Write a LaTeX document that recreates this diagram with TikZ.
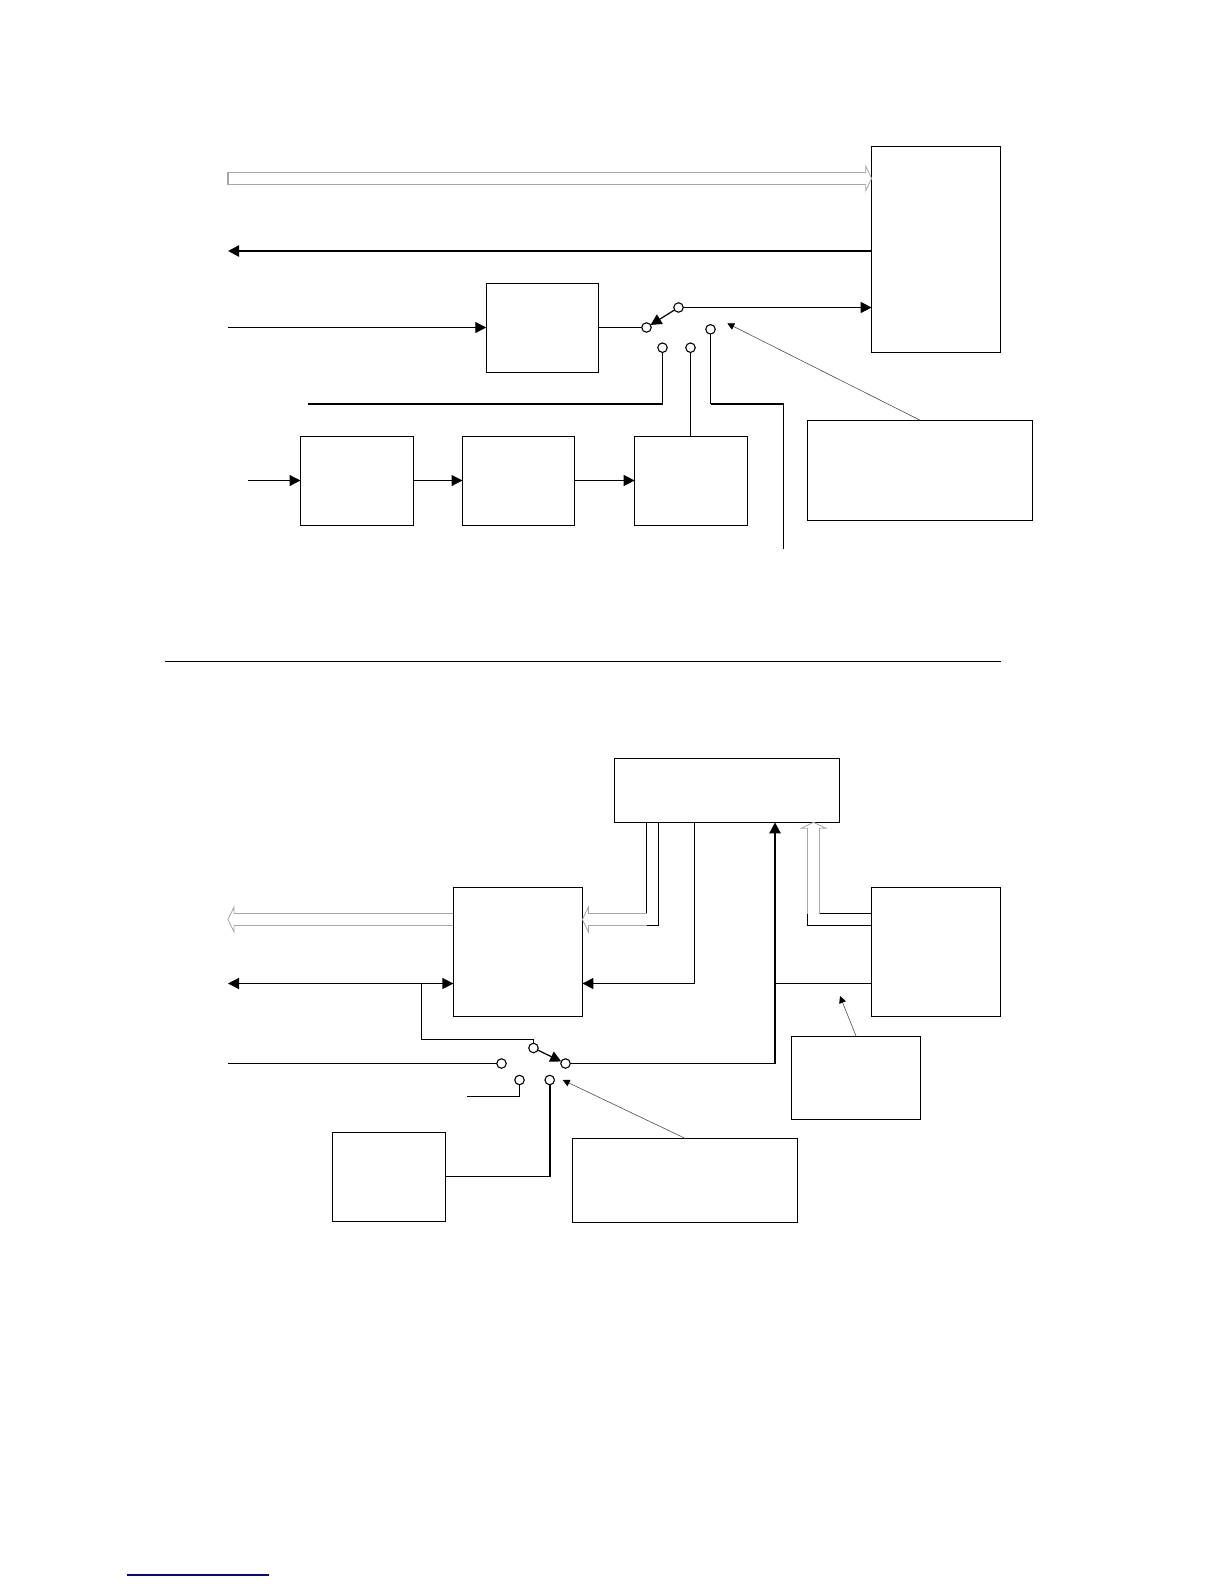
\documentclass[tikz,border=0pt]{standalone}
\usepackage{tikz}
\usetikzlibrary{arrows.meta,calc}
\definecolor{busGray}{HTML}{A6A6A6}
\definecolor{footBlue}{HTML}{0A0A80}
\pgfdeclarearrow{
  name=BusTip,
  setup code={
    \pgfarrowssettipend{0pt}
    \pgfarrowssetlineend{-5.5pt}
    \pgfarrowssetvisualbackend{-5.5pt}
    \pgfarrowssetbackend{-6pt}
    \pgfarrowshullpoint{-6pt}{12.5pt}
    \pgfarrowshullpoint{-6pt}{-12.5pt}
    \pgfarrowshullpoint{0pt}{0pt}
  },
  drawing code={
    \pgfsetlinewidth{0.8pt}
    \pgfsetmiterjoin
    \pgfpathmoveto{\pgfpoint{-6pt}{6pt}}
    \pgfpathlineto{\pgfpoint{-6pt}{12.5pt}}
    \pgfpathlineto{\pgfpoint{0pt}{0pt}}
    \pgfpathlineto{\pgfpoint{-6pt}{-12.5pt}}
    \pgfpathlineto{\pgfpoint{-6pt}{-6pt}}
    \pgfusepathqstroke
  }
}
\tikzset{
  blockbox/.style={draw, line width=1.2pt, outer sep=0pt, inner sep=0pt},
  contact/.style={draw, circle, fill=white, line width=1.1pt, minimum size=9.5pt, inner sep=0pt, outer sep=0pt},
  wire/.style={line width=1.2pt},
  heavywire/.style={line width=2.4pt},
  leader/.style={line width=0.6pt, black!70, -{Triangle[length=7pt,width=7pt,black]}},
  busline/.style={double=white, double distance=10.7pt, line width=1.3pt},
  bushead/.style={busline, draw=busGray, -{BusTip}},
  frombox/.style={shorten <=0.6pt}
}

\begin{document}
\begin{tikzpicture}[x=1pt, y=-1pt, >={Triangle[length=11pt,width=11pt]}]
  \useasboundingbox (0,0) rectangle (1224,1584);

  \node[blockbox, minimum width=128.7pt, minimum height=206pt] (hostBox) at (936,249.3) {};
  \node[blockbox, minimum width=112.3pt, minimum height=89pt] (filterBox) at (542.4,328) {};
  \node[blockbox, minimum width=112.8pt, minimum height=89.4pt] (oscBox) at (356.9,481) {};
  \node[blockbox, minimum width=112.2pt, minimum height=89.4pt] (divBox) at (518.6,481) {};
  \node[blockbox, minimum width=112.7pt, minimum height=89.4pt] (pllBox) at (691,481) {};
  \node[blockbox, minimum width=224.9pt, minimum height=100pt] (noteBox) at (920.2,470.3) {};

  \node[contact] (termA) at (678.5,307.5) {};
  \node[contact] (termB) at (646.5,327.5) {};
  \node[contact] (termC) at (662.5,347.7) {};
  \node[contact] (termD) at (690.5,347.7) {};
  \node[contact] (termE) at (710.5,329.3) {};

  \coordinate (busIn) at (228,178.5);
  \coordinate (dataOut) at (228,251);
  \coordinate (clkIn) at (228,327.5);
  \coordinate (extStart) at (308,404);
  \coordinate (extCorner) at (termC |- extStart);
  \coordinate (auxCorner) at (termE |- extStart);
  \coordinate (auxTurn) at (783.5,404);
  \coordinate (auxEnd) at (783.5,548.7);
  \coordinate (refIn) at (248,480.5);
  \coordinate (noteTip) at (727.3,323.3);

  \draw[bushead] (busIn) -- (busIn -| hostBox.west);
  \draw[busGray, line width=1.3pt] ($(busIn)+(0,-6.6)$) -- ($(busIn)+(0,6.6)$);
  \draw[heavywire, ->] (dataOut -| hostBox.west) -- (dataOut);
  \draw[wire, ->] (clkIn) -- (clkIn -| filterBox.west);
  \draw[wire] (clkIn -| filterBox.east) -- (termB);
  \draw[wire, ->] (termA) -- (termB);
  \draw[wire, ->] (termA) -- (termA -| hostBox.west);
  \draw[wire] (termC) -- (extCorner);
  \draw[heavywire] (extStart) -- (extCorner);
  \draw[wire] (termD) -- (termD |- pllBox.north);
  \draw[wire] (termE) -- (auxCorner);
  \draw[heavywire] (auxCorner) -- (auxTurn);
  \draw[wire] (auxTurn) -- (auxEnd);
  \draw[wire, ->] (refIn) -- (refIn -| oscBox.west);
  \draw[wire, ->] (refIn -| oscBox.east) -- (refIn -| divBox.west);
  \draw[wire, ->] (refIn -| divBox.east) -- (refIn -| pllBox.west);
  \draw[leader] (noteBox.north) -- (noteTip);

  \coordinate (sepLeft) at (164.6,661.5);
  \coordinate (sepRight) at (1000.8,661.5);
  \draw[line width=1.2pt] (sepLeft) -- (sepRight);

  \node[blockbox, minimum width=225pt, minimum height=64pt] (ctrlBox) at (727.1,790.3) {};
  \node[blockbox, minimum width=129pt, minimum height=129pt] (muxBox) at (517.9,951.8) {};
  \node[blockbox, minimum width=128.6pt, minimum height=129pt] (memBox) at (936,951.8) {};
  \node[blockbox, minimum width=129.1pt, minimum height=83pt] (sideNote) at (856.1,1077.8) {};
  \node[blockbox, minimum width=113.3pt, minimum height=89pt] (genBox) at (389,1176.8) {};
  \node[blockbox, minimum width=224.4pt, minimum height=84pt] (lowNote) at (685,1180.3) {};

  \node[contact] (swA) at (533.5,1048) {};
  \node[contact] (swB) at (501.5,1063.5) {};
  \node[contact] (swC) at (565.5,1063.5) {};
  \node[contact] (swD) at (519.5,1080) {};
  \node[contact] (swE) at (549.7,1080) {};

  \coordinate (busOut) at (228,919.5);
  \coordinate (ctrlLeft) at (652.5,919.5);
  \coordinate (ctrlTurn) at (646.5,919.5);
  \coordinate (memLeft) at (813.5,919.5);
  \coordinate (memTurn) at (813.5,913.5);
  \coordinate (ioEnd) at (228,983.5);
  \coordinate (ioBranch) at (421.5,983.5);
  \coordinate (ioDown) at (421.5,1039.5);
  \coordinate (ioRight) at (533.5,1039.5);
  \coordinate (lineIn) at (228,1063.5);
  \coordinate (swDdown) at (519.5,1096.5);
  \coordinate (swDend) at (467.3,1096.5);
  \coordinate (genTurn) at (549.7,1176.5);
  \coordinate (riserFoot) at (775,1063.5);
  \coordinate (riserTie) at (775,983.5);
  \coordinate (ctrlRet) at (694.5,983.5);
  \coordinate (sideTip) at (840,996);
  \coordinate (lowTip) at (562.7,1080);

  \draw[bushead, frombox] (muxBox.west |- busOut) -- (busOut);
  \draw[busline, frombox] (ctrlLeft |- ctrlBox.south) -- (ctrlLeft) -- (ctrlTurn);
  \draw[bushead] (ctrlTurn) -- (muxBox.east |- ctrlTurn);
  \draw[busline, frombox] (memBox.west |- memLeft) -- (memLeft) -- (memTurn);
  \draw[bushead] (memTurn) -- (memTurn |- ctrlBox.south);
  \draw[wire, <->] (ioEnd) -- (muxBox.west |- ioEnd);
  \draw[wire] (ioBranch) -- (ioDown) -- (ioRight) -- (swA);
  \draw[wire, ->] (swA) -- (swC);
  \draw[wire] (lineIn) -- (swB);
  \draw[wire] (swD) -- (swDdown) -- (swDend);
  \draw[line width=2pt] (swE) -- (genTurn);
  \draw[wire] (genTurn) -- (genBox.east |- genTurn);
  \draw[wire] (swC) -- (riserFoot);
  \draw[heavywire, ->] (riserFoot) -- (riserFoot |- ctrlBox.south);
  \draw[wire] (memBox.west |- riserTie) -- (riserTie);
  \draw[wire, ->] (ctrlRet |- ctrlBox.south) -- (ctrlRet) -- (muxBox.east |- ctrlRet);
  \draw[leader] (sideNote.north) -- (sideTip);
  \draw[leader] (lowNote.north) -- (lowTip);

  \coordinate (footLeft) at (127.3,1575);
  \coordinate (footRight) at (269,1575);
  \draw[footBlue, line width=1.2pt] (footLeft) -- (footRight);
\end{tikzpicture}
\end{document}
